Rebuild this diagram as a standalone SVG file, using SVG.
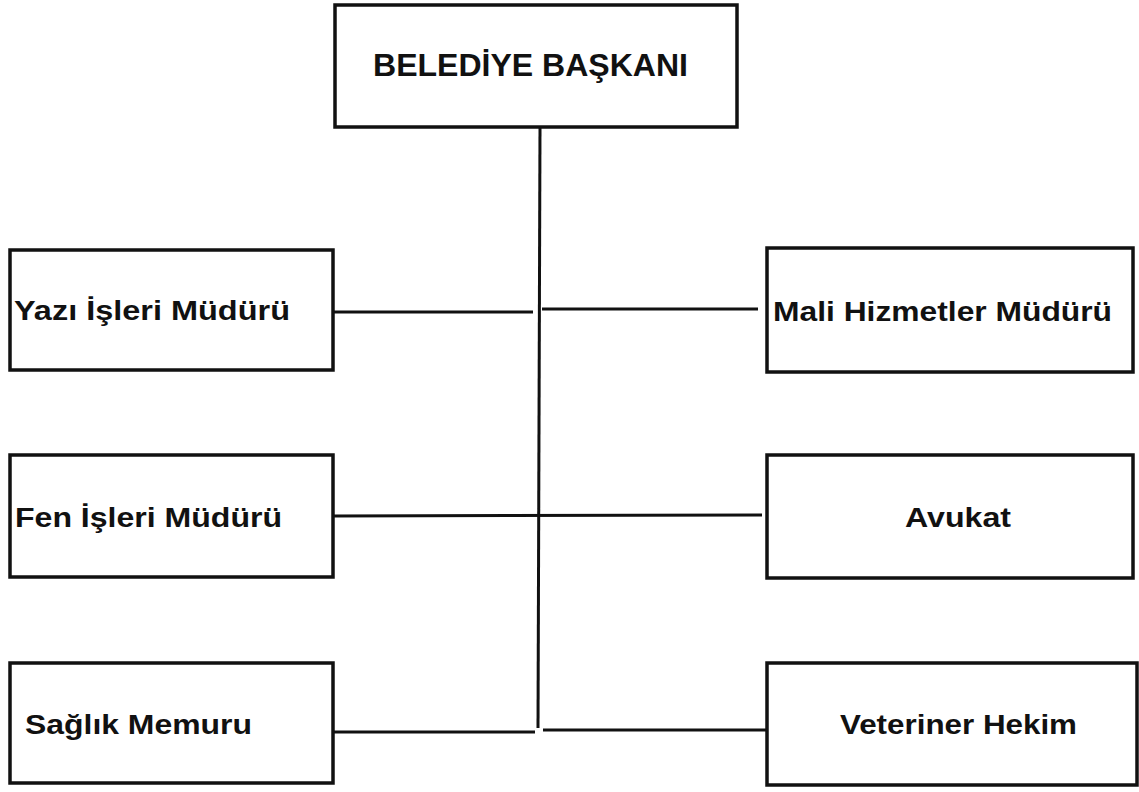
<svg xmlns="http://www.w3.org/2000/svg" width="1139" height="792" viewBox="0 0 1139 792">
<style>
.box{fill:#fff;stroke:#111;stroke-width:3.5}
.lbl{font-family:"Liberation Sans",Arial,sans-serif;font-weight:bold;font-size:28px;fill:#111}
.top{font-size:31px}
.con{stroke:#111;stroke-width:3;fill:none}
</style>
<rect width="1139" height="792" fill="#fff"/>
<g id="connectors">
<line class="con" x1="540" y1="127" x2="538" y2="728"/>
<line class="con" x1="333" y1="312" x2="533" y2="312"/>
<line class="con" x1="542" y1="309" x2="758" y2="309"/>
<line class="con" x1="333" y1="516" x2="762" y2="515"/>
<line class="con" x1="333" y1="732" x2="535" y2="732"/>
<line class="con" x1="543" y1="730" x2="767" y2="730"/>
</g>
<g id="baskan">
<rect class="box" x="335" y="5" width="402" height="122"/>
<text class="lbl top" x="373" y="76" textLength="315" lengthAdjust="spacingAndGlyphs">BELEDİYE BAŞKANI</text>
</g>
<g id="yazi">
<rect class="box" x="10" y="250" width="323" height="120"/>
<text class="lbl" x="14" y="320" textLength="276" lengthAdjust="spacingAndGlyphs">Yazı İşleri Müdürü</text>
</g>
<g id="mali">
<rect class="box" x="767" y="248" width="366" height="124"/>
<text class="lbl" x="773" y="321" textLength="339" lengthAdjust="spacingAndGlyphs">Mali Hizmetler Müdürü</text>
</g>
<g id="fen">
<rect class="box" x="10" y="455" width="323" height="122"/>
<text class="lbl" x="15" y="527" textLength="267" lengthAdjust="spacingAndGlyphs">Fen İşleri Müdürü</text>
</g>
<g id="avukat">
<rect class="box" x="767" y="455" width="366" height="123"/>
<text class="lbl" x="905" y="527" textLength="106" lengthAdjust="spacingAndGlyphs">Avukat</text>
</g>
<g id="saglik">
<rect class="box" x="10" y="663" width="323" height="120"/>
<text class="lbl" x="25" y="734" textLength="227" lengthAdjust="spacingAndGlyphs">Sağlık Memuru</text>
</g>
<g id="veteriner">
<rect class="box" x="767" y="663" width="370" height="122"/>
<text class="lbl" x="840" y="734" textLength="237" lengthAdjust="spacingAndGlyphs">Veteriner Hekim</text>
</g>
</svg>
